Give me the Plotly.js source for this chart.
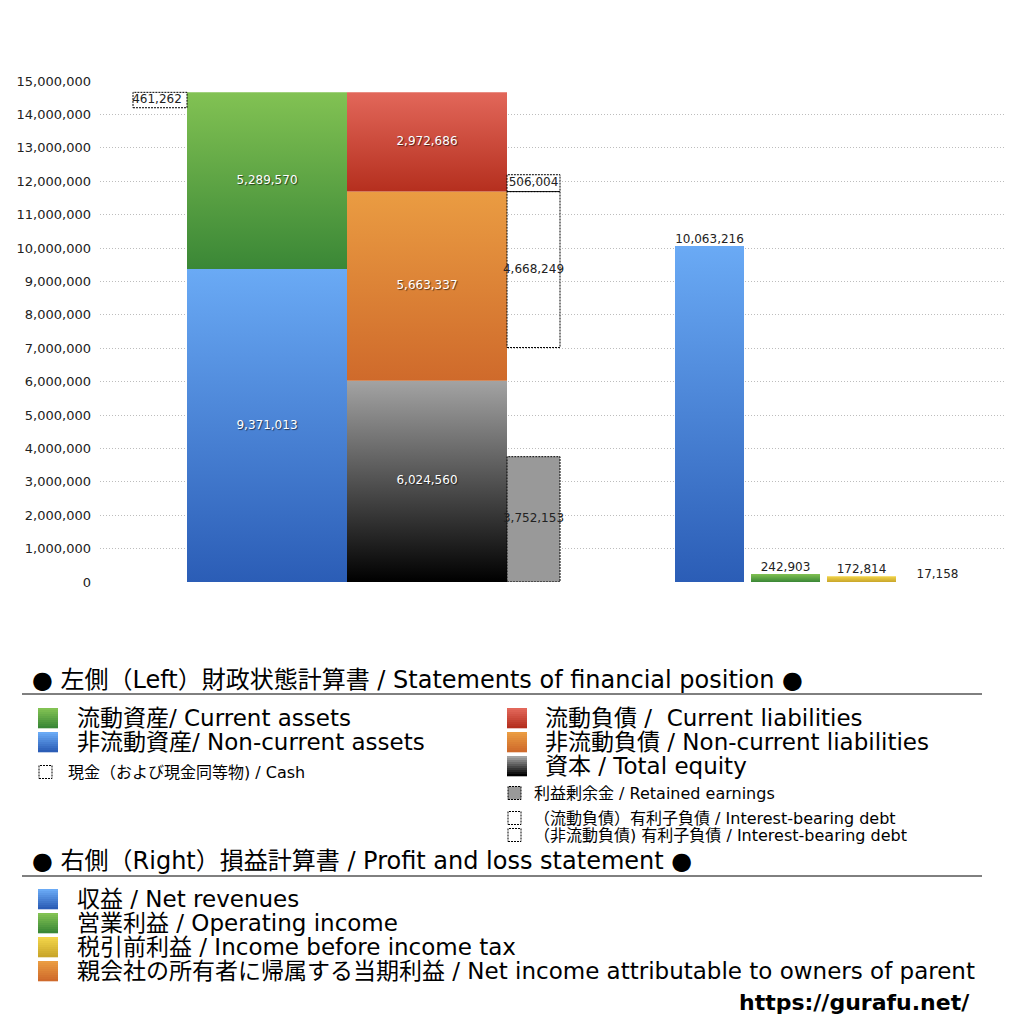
<!DOCTYPE html>
<html>
<head>
<meta charset="utf-8">
<script src="https://cdn.plot.ly/plotly-3.0.1.min.js"></script>
<style>
  html, body { margin: 0; padding: 0; background: #fff; }
  #chart { width: 1024px; height: 1024px; }
</style>
</head>
<body>
<div id="chart"></div>
<script>
// Left side: statement of financial position
const assetNames = ['非流動資産/ Non-current assets', '流動資産/ Current assets'];
const assetValues = [9371013, 5289570];
const claimNames = ['資本 / Total equity', '非流動負債 / Non-current liabilities', '流動負債 /  Current liabilities'];
const claimValues = [6024560, 5663337, 2972686];
const cashValue = 461262;
const retainedEarnings = 3752153;
const debtNames = ['(非流動負債) 有利子負債', '(流動負債) 有利子負債'];
const debtValues = [4668249, 506004];

// Right side: profit and loss
const plNames = ['収益 / Net revenues', '営業利益 / Operating income', '税引前利益 / Income before income tax', '親会社の所有者に帰属する当期利益'];
const plValues = [10063216, 242903, 172814, 17158];

const yTicks = [0, 1000000, 2000000, 3000000, 4000000, 5000000, 6000000, 7000000,
  8000000, 9000000, 10000000, 11000000, 12000000, 13000000, 14000000, 15000000];

// column layout (x axis units = pixels of the plot area)
const col = { cash: [60, 54], assets: [167, 160], claims: [327, 160], extra: [433.5, 53] };
const plCols = [609.5, 685.5, 761.5, 837.5];
const plWidth = 69;

// [bottom, top] colours
const grad = {
  blue: ['#2b5db6', '#6aaaf5'],
  green: ['#3a8736', '#82c253'],
  red: ['#b52f1e', '#e2675a'],
  orange: ['#cf6a2b', '#ea9c42'],
  black: ['#000000', '#a3a3a3'],
  yellow: ['#c9a62a', '#f2d449']
};

const fmt = v => v.toLocaleString('en-US');
const FONT = '"DejaVu Sans", "Noto Sans CJK JP", sans-serif';

function block(c, y0, y1, colors) {
  const x0 = c[0] - c[1] / 2, x1 = c[0] + c[1] / 2;
  return {
    type: 'scatter', mode: 'lines',
    x: [x0, x1, x1, x0, x0], y: [y0, y0, y1, y1, y0],
    fill: 'toself', fillcolor: colors[1],
    fillgradient: { type: 'vertical', start: y0, stop: y1, colorscale: [[0, colors[0]], [1, colors[1]]] },
    line: { width: 0, color: 'rgba(0,0,0,0)' },
    hoverinfo: 'skip', showlegend: false
  };
}

function dashed(c, y0, y1, fill) {
  const x0 = c[0] - c[1] / 2, x1 = c[0] + c[1] / 2;
  return {
    type: 'scatter', mode: 'lines',
    x: [x0, x1, x1, x0, x0], y: [y0, y0, y1, y1, y0],
    fill: fill ? 'toself' : 'none', fillcolor: fill || 'rgba(0,0,0,0)',
    line: { width: 1, color: '#000', dash: '2px,1px' },
    hoverinfo: 'skip', showlegend: false
  };
}

const traces = [];
const whiteX = [], whiteY = [], whiteT = [];
const darkX = [], darkY = [], darkT = [];

// assets column
let base = 0;
[grad.blue, grad.green].forEach((g, i) => {
  traces.push(block(col.assets, base, base + assetValues[i], g));
  whiteX.push(col.assets[0]); whiteY.push(base + assetValues[i] / 2); whiteT.push(fmt(assetValues[i]));
  base += assetValues[i];
});
const assetTotal = base;

// cash outline at the top of current assets
traces.push(dashed(col.cash, assetTotal - cashValue, assetTotal));
darkX.push(col.cash[0] - 3); darkY.push(assetTotal - cashValue / 2); darkT.push(fmt(cashValue));

// equity + liabilities column
base = 0;
const claimTops = [];
[grad.black, grad.orange, grad.red].forEach((g, i) => {
  traces.push(block(col.claims, base, base + claimValues[i], g));
  whiteX.push(col.claims[0]); whiteY.push(base + claimValues[i] / 2); whiteT.push(fmt(claimValues[i]));
  base += claimValues[i];
  claimTops.push(base);
});

// retained earnings
traces.push(dashed(col.extra, 0, retainedEarnings, '#999999'));
darkX.push(col.extra[0]); darkY.push(retainedEarnings / 2); darkT.push(fmt(retainedEarnings));

// interest-bearing debt: non-current below top of non-current liabilities, current on top of it
const ncTop = claimTops[1];
traces.push(dashed(col.extra, ncTop - debtValues[0], ncTop));
darkX.push(col.extra[0]); darkY.push(ncTop - debtValues[0] / 2); darkT.push(fmt(debtValues[0]));
traces.push(dashed(col.extra, ncTop, ncTop + debtValues[1]));
darkX.push(col.extra[0]); darkY.push(ncTop + debtValues[1] / 2); darkT.push(fmt(debtValues[1]));

// profit and loss bars
const plGrad = [grad.blue, grad.green, grad.yellow, grad.orange];
plValues.forEach((v, i) => {
  traces.push(block([plCols[i], plWidth], 0, v, plGrad[i]));
});

traces.push({
  type: 'scatter', mode: 'text', x: whiteX, y: whiteY, text: whiteT,
  textposition: 'middle center',
  textfont: { family: FONT, size: 12, color: '#ffffff', shadow: '1px 1px 1px rgba(0,0,0,0.6)' },
  hoverinfo: 'skip', showlegend: false
});
traces.push({
  type: 'scatter', mode: 'text', x: darkX, y: darkY, text: darkT,
  textposition: 'middle center',
  textfont: { family: FONT, size: 12, color: '#222' },
  hoverinfo: 'skip', showlegend: false
});
traces.push({
  type: 'scatter', mode: 'text', x: plCols, y: plValues, text: plValues.map(fmt),
  textposition: 'top center',
  textfont: { family: FONT, size: 12, color: '#222' },
  hoverinfo: 'skip', showlegend: false
});

// legend drawn below the plot, positioned in pixels
const fx = px => (px - 100) / 905;
const fy = py => (582 - py) / 501;
const annotations = [];
const shapes = [];

function mix(a, b, t) {
  const pa = [1, 3, 5].map(k => parseInt(a.substr(k, 2), 16));
  const pb = [1, 3, 5].map(k => parseInt(b.substr(k, 2), 16));
  return 'rgb(' + pa.map((v, k) => Math.round(v + (pb[k] - v) * t)).join(',') + ')';
}

function label(x, y, text, size) {
  annotations.push({
    xref: 'paper', yref: 'paper', x: fx(x), y: fy(y), xanchor: 'left', yanchor: 'middle',
    text: text, showarrow: false, font: { family: FONT, size: size, color: '#000' }
  });
}
// gradient legend square, drawn as thin horizontal strips
function swatch(x, y, s, g) {
  const n = 10;
  for (let k = 0; k < n; k++) {
    const top = y - s / 2 + k * s / n;
    shapes.push({
      type: 'rect', xref: 'paper', yref: 'paper',
      x0: fx(x), x1: fx(x + s), y0: fy(top + s / n + 0.3), y1: fy(top),
      fillcolor: mix(g[1], g[0], k / (n - 1)), line: { width: 0 }
    });
  }
}
function dashSwatch(x, y, s, color) {
  shapes.push({
    type: 'rect', xref: 'paper', yref: 'paper',
    x0: fx(x), x1: fx(x + s), y0: fy(y + s / 2), y1: fy(y - s / 2),
    fillcolor: color || 'rgba(0,0,0,0)',
    line: { color: '#000', width: 1, dash: '2px,1px' }
  });
}
function rule(y) {
  shapes.push({ type: 'line', xref: 'paper', yref: 'paper', x0: fx(22), x1: fx(982), y0: fy(y), y1: fy(y),
    line: { color: '#000', width: 1 } });
}

const BIG = 23, SMALL = 16;
label(30, 680, '● 左側（Left）財政状態計算書 / Statements of financial position ●', 24);
rule(694);
swatch(38, 718, 20, grad.green); label(75, 718, '流動資産/ Current assets', BIG);
swatch(38, 742, 20, grad.blue); label(75, 742, '非流動資産/ Non-current assets', BIG);
dashSwatch(39, 772, 13); label(66, 772, '現金（および現金同等物) / Cash', SMALL);
swatch(507, 718, 20, grad.red); label(543, 718, '流動負債 /  Current liabilities', BIG);
swatch(507, 742, 20, grad.orange); label(543, 742, '非流動負債 / Non-current liabilities', BIG);
swatch(507, 766, 20, grad.black); label(543, 766, '資本 / Total equity', BIG);
dashSwatch(508, 793, 13, '#999999'); label(532, 793, '利益剰余金 / Retained earnings', SMALL);
dashSwatch(508, 818, 13); label(532, 818, '（流動負債）有利子負債 / Interest-bearing debt', SMALL);
dashSwatch(508, 835, 13); label(532, 835, '（非流動負債) 有利子負債 / Interest-bearing debt', SMALL);

label(30, 861, '● 右側（Right）損益計算書 / Profit and loss statement ●', 24);
rule(876);
swatch(38, 899, 20, grad.blue); label(75, 899, '収益 / Net revenues', BIG);
swatch(38, 923, 20, grad.green); label(75, 923, '営業利益 / Operating income', BIG);
swatch(38, 947, 20, grad.yellow); label(75, 947, '税引前利益 / Income before income tax', BIG);
swatch(38, 971, 20, grad.orange); label(75, 971, '親会社の所有者に帰属する当期利益 / Net income attributable to owners of parent', BIG);

annotations.push({
  xref: 'paper', yref: 'paper', x: fx(972), y: fy(1002), xanchor: 'right', yanchor: 'middle',
  text: '<b>https://gurafu.net/</b>', showarrow: false,
  font: { family: FONT, size: 22, color: '#000' }
});

const layout = {
  width: 1024, height: 1024,
  margin: { l: 100, r: 19, t: 81, b: 442 },
  paper_bgcolor: '#fff', plot_bgcolor: '#fff',
  showlegend: false,
  xaxis: { range: [0, 905], visible: false, fixedrange: true },
  yaxis: {
    range: [0, 15000000], tickvals: yTicks, ticktext: yTicks.map(fmt),
    showgrid: true, gridcolor: '#bdbdbd', griddash: '1px,2px', gridwidth: 1,
    zeroline: false, showline: false, ticks: '', ticklabelstandoff: 8,
    tickfont: { family: FONT, size: 13, color: '#222' }
  },
  shapes: shapes,
  annotations: annotations
};

Plotly.newPlot('chart', traces, layout, { displayModeBar: false, staticPlot: true });
</script>
</body>
</html>
